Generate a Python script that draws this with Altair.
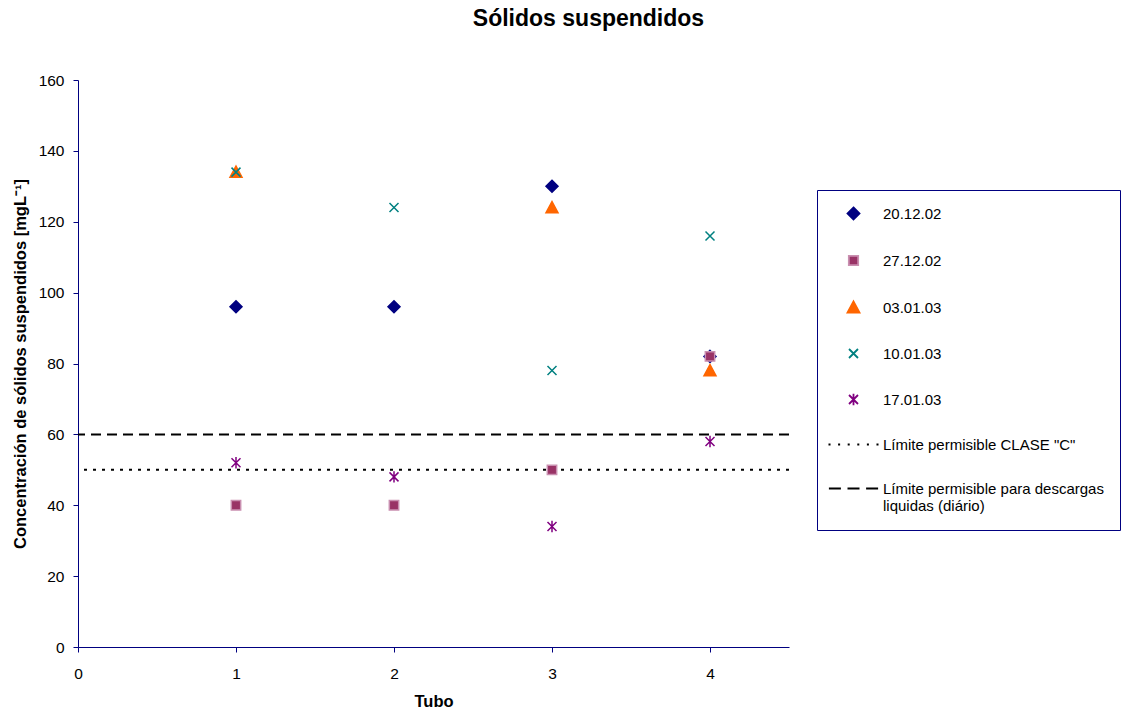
import altair as alt
import pandas as pd

# ---- data ----
tubos = [1, 2, 3, 4]
series_names = ["20.12.02", "27.12.02", "03.01.03", "10.01.03", "17.01.03"]
s_20_12_02 = [96, 96, 130, 82]
s_27_12_02 = [40, 40, 50, 82]
s_03_01_03 = [134, None, 124, 78]
s_10_01_03 = [134, 124, 78, 116]
s_17_01_03 = [52, 48, 34, 58]
limit_names = ['Límite permisible CLASE "C"', "Límite permisible para descargas|liquidas (diário)"]
limit_values = [50, 60]

x_ticks = [0, 1, 2, 3, 4]
y_ticks = [0, 20, 40, 60, 80, 100, 120, 140, 160]

fill_colors = ["#000080", "#993366", "#FF6600", "#008080", "#800080", "black", "black"]
stroke_colors = ["#000080", "#C98FB0", "#FF6600", "#008080", "#800080", "black", "black"]

diamond = "M0,-1L1,0L0,1L-1,0Z"
square = "M-0.78,-0.78L0.78,-0.78L0.78,0.78L-0.78,0.78Z"
triangle = "M0,-1L1,0.85L-1,0.85Z"
xcross = "M-0.75,-0.75L0.75,0.75M-0.75,0.75L0.75,-0.75"
asterisk = "M-0.75,-0.75L0.75,0.75M-0.75,0.75L0.75,-0.75M0,-0.95L0,0.95"
dotted = "".join(f"M{c-0.17:.2f},0L{c+0.17:.2f},0" for c in [-4, -2.4, -0.8, 0.8, 2.4, 4])
dashed = "M-4.1,0L-2.1,0M-1,0L1,0M2.1,0L4.1,0"
shapes = [diamond, square, triangle, xcross, asterisk, dotted, dashed]

all_series = [s_20_12_02, s_27_12_02, s_03_01_03, s_10_01_03, s_17_01_03]
rows = []
for k, (name, vals) in enumerate(zip(series_names, all_series)):
    for t, v in zip(tubos, vals):
        if v is not None:
            rows.append({"Tubo": t, "valor": v, "serie": name, "ord": k})
df = pd.DataFrame(rows)

domain = series_names + limit_names

font = "Liberation Sans"

x_enc = alt.X("Tubo:Q", title="Tubo",
              scale=alt.Scale(domain=[0, 4.5], nice=False, zero=False),
              axis=alt.Axis(values=x_ticks, format="d", labelFlush=False))
y_enc = alt.Y("valor:Q", title="Concentración de sólidos suspendidos [mgL⁻¹]",
              scale=alt.Scale(domain=[0, 160], nice=False),
              axis=alt.Axis(values=y_ticks, labelFlush=False))

lab_expr = "split(datum.label, '|')"

points = alt.Chart(df).mark_point(size=144, strokeWidth=1.5, opacity=1).encode(
    x=x_enc,
    y=y_enc,
    fill=alt.Fill("serie:N", scale=alt.Scale(domain=domain, range=fill_colors),
                  legend=alt.Legend(title=None, labelExpr=lab_expr)),
    stroke=alt.Stroke("serie:N", scale=alt.Scale(domain=domain, range=stroke_colors),
                      legend=alt.Legend(title=None, labelExpr=lab_expr)),
    shape=alt.Shape("serie:N", scale=alt.Scale(domain=domain, range=shapes),
                    legend=alt.Legend(title=None, labelExpr=lab_expr)),
    order=alt.Order("ord:Q"),
)

df_dot = pd.DataFrame({"y": [limit_values[0]]})
df_dash = pd.DataFrame({"y": [limit_values[1]]})
rule_dot = alt.Chart(df_dot).mark_rule(color="black", strokeWidth=2, strokeDash=[3, 6]).encode(
    y=alt.Y("y:Q"))
rule_dash = alt.Chart(df_dash).mark_rule(color="black", strokeWidth=2, strokeDash=[10, 6]).encode(
    y=alt.Y("y:Q"))

chart = alt.layer(rule_dot, rule_dash, points).properties(
    width=711,
    height=567,
    autosize=alt.AutoSizeParams(type="none"),
    padding={"left": 78, "top": 80, "right": 341, "bottom": 62},
    title=alt.TitleParams("Sólidos suspendidos", font=font, fontSize=23, fontWeight="bold",
                          anchor="middle", dx=155, offset=42, color="black"),
).configure_view(stroke=None).configure_axis(
    grid=False,
    domainColor="#000080",
    tickColor="#000080",
    domainWidth=1,
    tickWidth=1,
    tickSize=5,
    labelFont=font,
    labelFontSize=15.5,
    labelColor="black",
    titleFont=font,
    titleFontSize=16.5,
    titleFontWeight="bold",
    titleColor="black",
).configure_axisY(
    labelPadding=9,
    titlePadding=10,
).configure_axisX(
    labelPadding=14,
    titlePadding=12,
).configure_legend(
    orient="none",
    legendX=739,
    legendY=110,
    padding=16,
    strokeColor="#000080",
    strokeWidth=1,
    symbolSize=144,
    symbolStrokeWidth=1.8,
    symbolOpacity=1,
    symbolOffset=13,
    labelOffset=22,
    labelFont=font,
    labelFontSize=15,
    labelColor="black",
    labelLimit=400,
    rowPadding=28,
)

chart.save("out.html", embed_options={"renderer": "svg", "actions": False})
